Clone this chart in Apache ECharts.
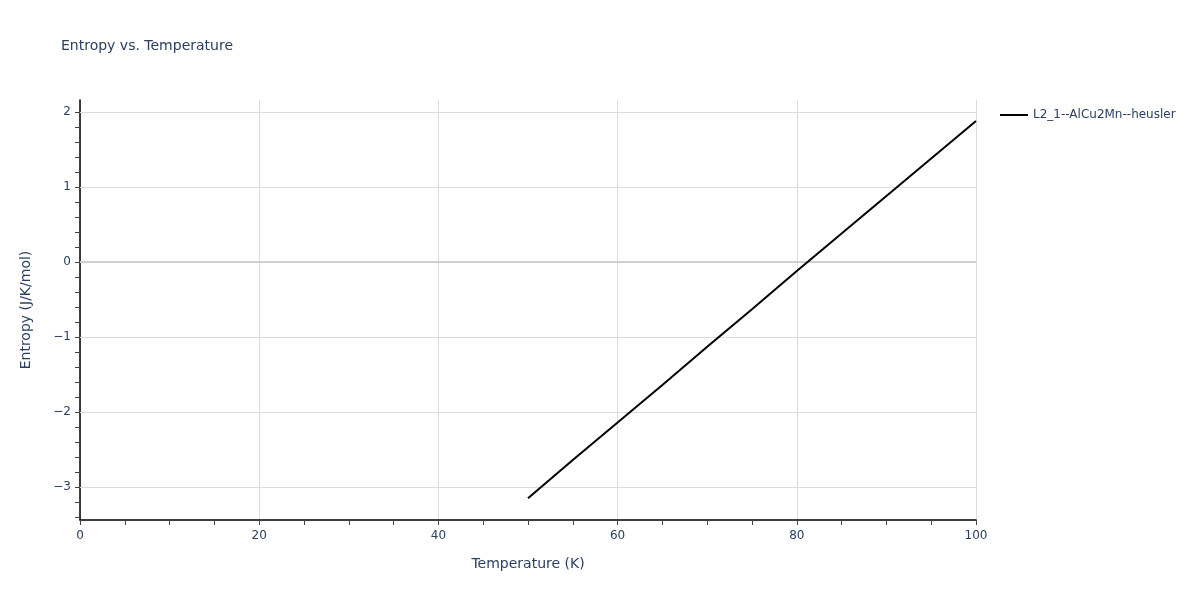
<!DOCTYPE html>
<html>
<head>
<meta charset="utf-8">
<script src="https://cdn.jsdelivr.net/npm/echarts@6/dist/echarts.min.js"></script>
<style>html,body{margin:0;padding:0;background:#fff}#c{width:1200px;height:600px}</style>
</head>
<body>
<div id="c"></div>
<script>
const seriesName = 'L2_1--AlCu2Mn--heusler';
const temperature = [50, 55, 60, 65, 70, 75, 80, 85, 90, 95, 100];
const entropy = [-3.15, -2.64, -2.14, -1.64, -1.13, -0.63, -0.12, 0.38, 0.88, 1.38, 1.88];
const xTicks = [0, 20, 40, 60, 80, 100];
const yTicks = [-3, -2, -1, 0, 1, 2];
const yMinorTicks = [-3.4, -3.2, -3.0, -2.8, -2.6, -2.4, -2.2, -2.0, -1.8, -1.6, -1.4, -1.2, -1.0, -0.8, -0.6, -0.4, -0.2, 0, 0.2, 0.4, 0.6, 0.8, 1.0, 1.2, 1.4, 1.6, 1.8, 2.0];

const FONT = '"DejaVu Sans", Verdana, Arial, sans-serif';
const TXT = '#2a3f5f';
const chart = echarts.init(document.getElementById('c'));
const data = temperature.map((t, i) => [t, entropy[i]]);

chart.setOption({
  animation: false,
  textStyle: { fontFamily: FONT },
  title: {
    text: 'Entropy vs. Temperature',
    left: 56, top: 34,
    textStyle: { fontFamily: FONT, fontSize: 14, fontWeight: 'normal', color: TXT }
  },
  legend: {
    left: 995, top: 104,
    itemWidth: 28, itemHeight: 2,
    icon: 'rect',
    textStyle: { fontFamily: FONT, fontSize: 12, color: TXT },
    data: [seriesName]
  },
  grid: { left: 80, right: 224, top: 100, bottom: 80, containLabel: false },
  xAxis: {
    type: 'value', min: 0, max: 100, interval: 20,
    name: 'Temperature (K)', nameLocation: 'middle', nameGap: 37,
    nameTextStyle: { fontFamily: FONT, fontSize: 14, color: TXT },
    axisLine: { show: true, onZero: false, lineStyle: { color: '#000', width: 1.5 } },
    axisTick: { show: true, inside: false, length: 5, lineStyle: { color: '#444' } },
    minorTick: { show: true, splitNumber: 4, length: 5, lineStyle: { color: '#444' } },
    axisLabel: { fontFamily: FONT, fontSize: 12, color: TXT, margin: 10 },
    splitLine: { show: true, lineStyle: { color: '#dcdcdc', width: 1 } }
  },
  yAxis: {
    type: 'value', min: -3.44, max: 2.16,
    name: 'Entropy (J/K/mol)', nameLocation: 'middle', nameGap: 47,
    nameTextStyle: { fontFamily: FONT, fontSize: 14, color: TXT },
    axisLine: { show: true, onZero: false, lineStyle: { color: '#000', width: 1.5 } },
    axisTick: { show: true, inside: false, length: 5, customValues: yMinorTicks, lineStyle: { color: '#444' } },
    axisLabel: {
      fontFamily: FONT, fontSize: 12, color: TXT, margin: 9,
      customValues: yTicks,
      padding: [3, 0, 0, 0],
      formatter: v => String(v).replace('-', '\u2212')
    },
    splitLine: { show: false }
  },
  series: [{
    name: seriesName,
    type: 'line',
    data: data,
    showSymbol: false,
    symbol: 'none',
    lineStyle: { color: '#000', width: 2 },
    itemStyle: { color: '#000' },
    z: 5,
    markLine: {
      silent: true,
      symbol: ['none', 'none'],
      label: { show: false },
      animation: false,
      z: 1,
      data: yTicks.map(v => ({
        yAxis: v,
        lineStyle: { color: v === 0 ? '#cfcfcf' : '#dcdcdc', width: v === 0 ? 2 : 1, type: 'solid' }
      }))
    }
  }]
});
</script>
</body>
</html>
